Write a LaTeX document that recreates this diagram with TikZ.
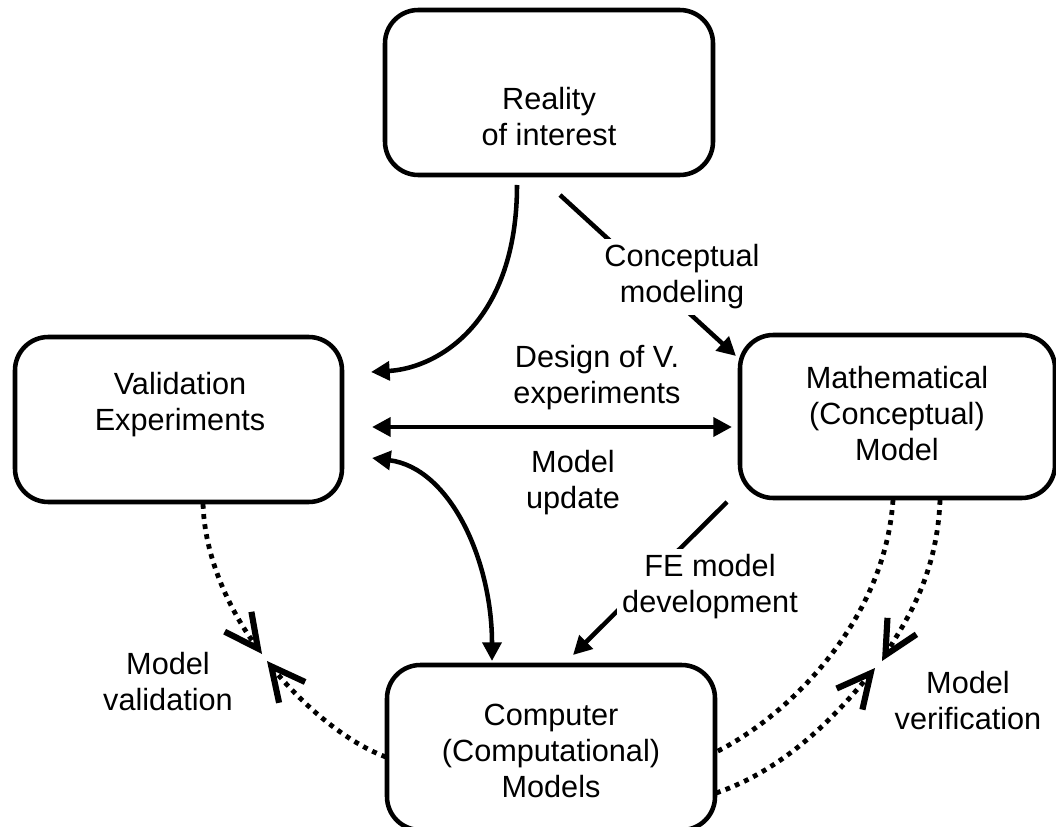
\documentclass[tikz,border=0pt]{standalone}
\usepackage{fontspec}
\setmainfont{Liberation Sans}
\usetikzlibrary{arrows.meta}
\begin{document}
\begin{tikzpicture}[x=0.75pt,y=-0.75pt,
  box/.style={draw,line width=3.4pt,rounded corners=25pt,minimum width=246pt,minimum height=123.75pt,inner sep=0pt},
  txt/.style={align=center,inner sep=0pt,font=\fontsize{23}{27}\selectfont},
  lbl/.style={txt,fill=white,inner sep=4pt},
  arr/.style={line width=3.4pt,-{Triangle[length=14pt,width=14pt]}},
  dbl/.style={line width=3.4pt,{Triangle[length=14pt,width=14pt]}-{Triangle[length=14pt,width=14pt]}},
  dotl/.style={line width=3.6pt,dash pattern=on 3.6pt off 4pt},
  dot/.style={dotl,-{Straight Barb[length=25pt,width=25pt,line width=4.6pt]}}
]
\useasboundingbox (0,0) rectangle (1056,827);

% boxes
\node[box] (real) at (549,92.5) {};
\node[box,minimum width=245.25pt] (val) at (178.5,419.5) {};
\node[box,minimum width=236.25pt,minimum height=122.25pt] (math) at (897.5,416.5) {};
\node[box] (comp) at (551,747.5) {};

% box texts
\node[txt] (realt) at (549,117) {Reality\\of interest};
\node[txt] (valt) at (180,405) {Validation\\Experiments};
\node[txt] (matht) at (897,414) {Mathematical\\(Conceptual)\\Model};
\node[txt] (compt) at (551,751) {Computer\\(Computational)\\Models};

% free ends
\coordinate (r1) at (517,185);
\coordinate (v1) at (371,372);
\coordinate (c1) at (560,195);
\coordinate (c2) at (736,356);
\coordinate (h1) at (372,427);
\coordinate (h2) at (732,427);
\coordinate (u1) at (372,458);
\coordinate (u2) at (492,661);
\coordinate (f1) at (727,502);
\coordinate (f2) at (573,655);
\coordinate (vb) at (203,504);
\coordinate (cl) at (386,757);
\coordinate (mv1) at (262,654);
\coordinate (mv2) at (267,661);
\coordinate (mi) at (893,500);
\coordinate (mo1) at (940,500);
\coordinate (ci) at (716,752);
\coordinate (co) at (716,793);
\coordinate (mo2) at (882,661);
\coordinate (mo3) at (875,668);

% solid connectors
\draw[arr] (r1) .. controls (517,320) and (440,368) .. (v1);
\draw[arr] (c1) -- (c2);
\draw[dbl] (h1) -- (h2);
\draw[dbl] (u1) .. controls (450,468) and (492,560) .. (u2);
\draw[arr] (f1) -- (f2);

% dotted connectors
\draw[dot] (vb) .. controls (205,565) and (236,619) .. (mv1);
\draw[dot] (cl) .. controls (340,740) and (295,696) .. (mv2);
\draw[dotl] (mi) .. controls (885,620) and (790,715) .. (ci);
\draw[dot] (mo1) .. controls (937,580) and (902,626) .. (mo2);
\draw[dot] (co) .. controls (790,768) and (843,707) .. (mo3);

% labels
\node[lbl] (cm) at (682,277) {Conceptual\\modeling};
\node[lbl] (fe) at (710,587) {FE model\\development};
\node[txt] (dv) at (597,378) {Design of V.\\experiments};
\node[txt] (mu) at (573,483) {Model\\update};
\node[txt] (mval) at (168,682) {Model\\validation};
\node[txt] (mver) at (968,701) {Model\\verification};
\end{tikzpicture}
\end{document}
